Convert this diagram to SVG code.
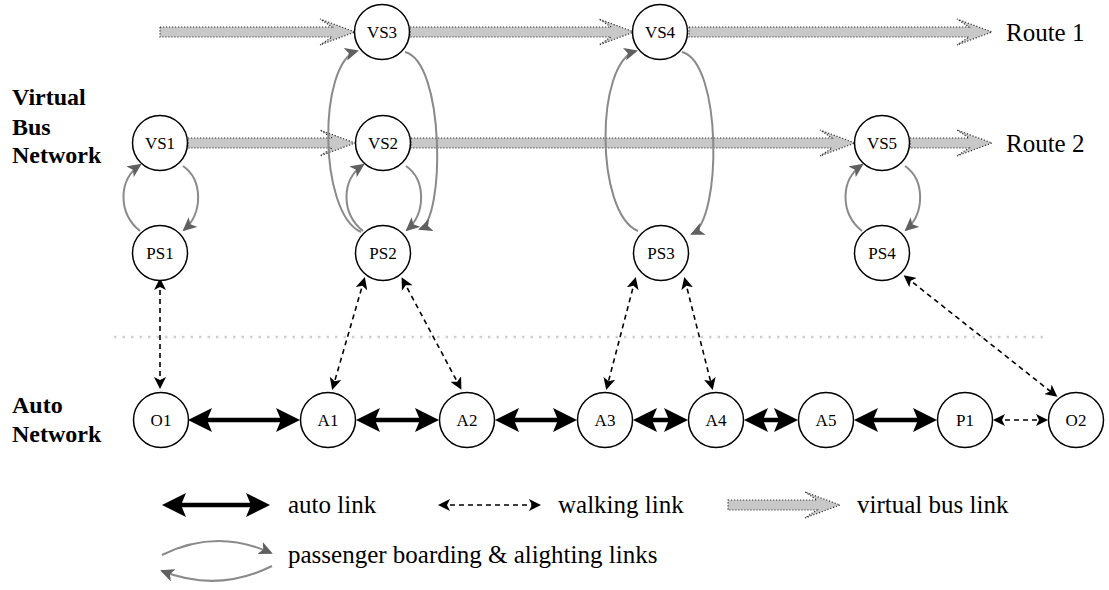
<svg xmlns="http://www.w3.org/2000/svg" width="1109" height="590" viewBox="0 0 1109 590">
  <style>
    .node circle { fill: #fff; stroke: #000; stroke-width: 1.5; }
    .node text { font-family: "Liberation Serif", "Times New Roman", serif; font-size: 17px; text-anchor: middle; fill: #000; }
    .lbl { font-family: "Liberation Serif", "Times New Roman", serif; font-size: 25px; fill: #000; }
    .net { font-family: "Liberation Serif", "Times New Roman", serif; font-size: 24px; font-weight: bold; fill: #000; }
    .auto { stroke: #000; stroke-width: 4.5; fill: none; marker-start: url(#autoHead); marker-end: url(#autoHead); }
    .walk { stroke: #000; stroke-width: 1.6; stroke-dasharray: 5 4; fill: none; marker-start: url(#walkHead); marker-end: url(#walkHead); }
    .board { stroke: #8a8a8a; stroke-width: 2; fill: none; marker-end: url(#boardHead); }
    .bus { fill: #c8c8c8; stroke: #333; stroke-width: 1.2; stroke-dasharray: 1.2 1.8; }
    .sep { stroke: #cfcfcf; stroke-width: 2.5; stroke-dasharray: 2.5 6; fill: none; }
  </style>
  <defs>
    <marker id="autoHead" viewBox="0 0 24 25" markerUnits="userSpaceOnUse" markerWidth="24" markerHeight="25" refX="14" refY="12.5" orient="auto-start-reverse">
      <path d="M0,0.5 L24,12.5 L0,24.5 L5,12.5 z" fill="#000"/>
    </marker>
    <marker id="walkHead" viewBox="0 0 12 12" markerUnits="userSpaceOnUse" markerWidth="12" markerHeight="12" refX="9" refY="6" orient="auto-start-reverse">
      <path d="M0,0 L12,6 L0,12 L3,6 z" fill="#000"/>
    </marker>
    <marker id="boardHead" viewBox="0 0 14 13" markerUnits="userSpaceOnUse" markerWidth="14" markerHeight="13" refX="12" refY="6.5" orient="auto">
      <path d="M0,0 L14,6.5 L0,13 L3.5,6.5 z" fill="#606060"/>
    </marker>
  </defs>

  <!-- layer titles -->
  <text class="net" x="12" y="105">Virtual</text>
  <text class="net" x="12" y="135">Bus</text>
  <text class="net" x="12" y="163">Network</text>
  <text class="net" x="12" y="413">Auto</text>
  <text class="net" x="12" y="442">Network</text>

  <!-- separator between the two layers -->
  <line class="sep" x1="114" y1="337" x2="1046" y2="337"/>

  <g id="connectors">
    <!-- virtual bus links: route 1 -->
    <polygon class="bus" points="160,27 332,27 320,19 355,32 320,45 332,37 160,37"/>
    <polygon class="bus" points="410,27 611,27 599,19 634,32 599,45 611,37 410,37"/>
    <polygon class="bus" points="689,27 969,27 957,19 992,32 957,45 969,37 689,37"/>
    <!-- virtual bus links: route 2 -->
    <polygon class="bus" points="188,138 332,138 320,130 355,143 320,156 332,148 188,148"/>
    <polygon class="bus" points="411,138 832,138 820,130 855,143 820,156 832,148 411,148"/>
    <polygon class="bus" points="910,138 969,138 957,130 992,143 957,156 969,148 910,148"/>

    <!-- boarding / alighting links -->
    <path class="board" d="M140,231 C118,213 118,180 140,165"/>
    <path class="board" d="M183,166 C203,180 203,213 184,230"/>
    <path class="board" d="M363,231 C341,213 341,180 363,165"/>
    <path class="board" d="M406,166 C426,180 426,213 407,230"/>
    <path class="board" d="M361,232 C318,213 318,62 357,51"/>
    <path class="board" d="M405,52 C445,62 445,220 420,229"/>
    <path class="board" d="M638,231 C595,213 595,62 636,51"/>
    <path class="board" d="M682,52 C722,62 722,220 692,234"/>
    <path class="board" d="M862,231 C840,213 840,180 862,165"/>
    <path class="board" d="M905,166 C925,180 925,213 906,230"/>

    <!-- walking links -->
    <line class="walk" x1="160" y1="281" x2="160" y2="386"/>
    <line class="walk" x1="364" y1="280" x2="333" y2="387"/>
    <line class="walk" x1="403" y1="280" x2="460" y2="387"/>
    <line class="walk" x1="635" y1="280" x2="607" y2="387"/>
    <line class="walk" x1="685" y1="280" x2="712" y2="387"/>
    <line class="walk" x1="906" y1="277" x2="1055" y2="395"/>
    <line class="walk" x1="996" y1="420" x2="1045" y2="420"/>

    <!-- auto links -->
    <line class="auto" x1="198" y1="420" x2="290" y2="420"/>
    <line class="auto" x1="366" y1="420" x2="429" y2="420"/>
    <line class="auto" x1="505" y1="420" x2="567" y2="420"/>
    <line class="auto" x1="643" y1="420" x2="678" y2="420"/>
    <line class="auto" x1="754" y1="420" x2="788" y2="420"/>
    <line class="auto" x1="864" y1="420" x2="927" y2="420"/>
  </g>

  <!-- virtual bus stops -->
  <g id="VS3" class="node"><circle cx="382" cy="32" r="27.5"/><text x="382" y="38">VS3</text></g>
  <g id="VS4" class="node"><circle cx="660" cy="32" r="27.5"/><text x="660" y="38">VS4</text></g>
  <g id="VS1" class="node"><circle cx="160" cy="143" r="27.5"/><text x="160" y="149">VS1</text></g>
  <g id="VS2" class="node"><circle cx="383" cy="143" r="27.5"/><text x="383" y="149">VS2</text></g>
  <g id="VS5" class="node"><circle cx="882" cy="143" r="27.5"/><text x="882" y="149">VS5</text></g>

  <!-- physical stops -->
  <g id="PS1" class="node"><circle cx="160" cy="253" r="27.5"/><text x="160" y="259">PS1</text></g>
  <g id="PS2" class="node"><circle cx="383" cy="253" r="27.5"/><text x="383" y="259">PS2</text></g>
  <g id="PS3" class="node"><circle cx="661" cy="253" r="27.5"/><text x="661" y="259">PS3</text></g>
  <g id="PS4" class="node"><circle cx="882" cy="253" r="27.5"/><text x="882" y="259">PS4</text></g>

  <!-- auto network nodes -->
  <g id="O1" class="node"><circle cx="161" cy="420" r="27.5"/><text x="161" y="426">O1</text></g>
  <g id="A1" class="node"><circle cx="328" cy="420" r="27.5"/><text x="328" y="426">A1</text></g>
  <g id="A2" class="node"><circle cx="467" cy="420" r="27.5"/><text x="467" y="426">A2</text></g>
  <g id="A3" class="node"><circle cx="605" cy="420" r="27.5"/><text x="605" y="426">A3</text></g>
  <g id="A4" class="node"><circle cx="716" cy="420" r="27.5"/><text x="716" y="426">A4</text></g>
  <g id="A5" class="node"><circle cx="826" cy="420" r="27.5"/><text x="826" y="426">A5</text></g>
  <g id="P1" class="node"><circle cx="965" cy="420" r="27.5"/><text x="965" y="426">P1</text></g>
  <g id="O2" class="node"><circle cx="1076" cy="420" r="27.5"/><text x="1076" y="426">O2</text></g>

  <!-- route names -->
  <text class="lbl" x="1006" y="41">Route 1</text>
  <text class="lbl" x="1006" y="152">Route 2</text>

  <!-- legend -->
  <g id="legend">
    <line class="auto" x1="172" y1="505" x2="260" y2="505"/>
    <text class="lbl" x="288" y="513">auto link</text>
    <line class="walk" x1="441" y1="505" x2="538" y2="505"/>
    <text class="lbl" x="558" y="513">walking link</text>
    <polygon class="bus" points="728,500 817,500 805,492 840,505 805,518 817,510 728,510"/>
    <text class="lbl" x="857" y="513">virtual bus link</text>
    <path class="board" d="M162,555 Q216,528 271,553"/>
    <path class="board" d="M272,566 Q218,593 162,571"/>
    <text class="lbl" x="288" y="563">passenger boarding &amp; alighting links</text>
  </g>
</svg>
